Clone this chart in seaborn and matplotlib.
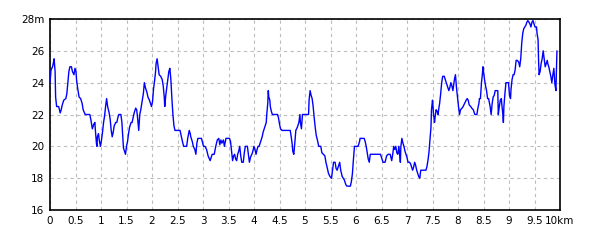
import matplotlib
matplotlib.use("Agg")
import matplotlib.pyplot as plt
import seaborn as sns
import pandas as pd

distance_km = [
    0.00, 0.02, 0.05, 0.07, 0.08, 0.10, 0.11, 0.13, 0.17, 0.20, 0.22, 0.24, 0.27, 0.31, 0.33, 0.35,
    0.37, 0.39, 0.42, 0.44, 0.47, 0.49, 0.51, 0.52, 0.54, 0.57, 0.60, 0.63, 0.65, 0.69, 0.72, 0.78,
    0.80, 0.83, 0.86, 0.88, 0.89, 0.91, 0.92, 0.93, 0.95, 0.97, 0.99, 1.01, 1.03, 1.05, 1.07, 1.09,
    1.11, 1.13, 1.16, 1.18, 1.20, 1.22, 1.24, 1.26, 1.29, 1.31, 1.33, 1.35, 1.39, 1.41, 1.43, 1.44,
    1.46, 1.48, 1.50, 1.52, 1.54, 1.56, 1.59, 1.61, 1.63, 1.65, 1.68, 1.70, 1.72, 1.74, 1.76, 1.78,
    1.81, 1.83, 1.85, 1.87, 1.90, 1.92, 1.95, 1.97, 1.99, 2.01, 2.03, 2.05, 2.07, 2.08, 2.10, 2.12,
    2.14, 2.17, 2.20, 2.22, 2.24, 2.25, 2.27, 2.29, 2.31, 2.33, 2.35, 2.37, 2.39, 2.41, 2.43, 2.45,
    2.48, 2.55, 2.57, 2.59, 2.62, 2.65, 2.68, 2.70, 2.73, 2.75, 2.76, 2.79, 2.81, 2.84, 2.86, 2.88,
    2.90, 2.93,
    2.97, 3.01, 3.04, 3.07, 3.10, 3.14, 3.16, 3.18, 3.22, 3.25, 3.28, 3.31, 3.33, 3.35, 3.37, 3.40,
    3.42, 3.45, 3.48, 3.52, 3.54, 3.56, 3.58, 3.60, 3.62, 3.64, 3.66, 3.68, 3.70, 3.72, 3.74, 3.76,
    3.79, 3.81, 3.83, 3.87, 3.89, 3.91, 3.93, 3.97, 4.00, 4.02, 4.04, 4.06, 4.08, 4.10, 4.13, 4.16,
    4.18, 4.21, 4.24, 4.25, 4.27, 4.28, 4.29, 4.31, 4.32, 4.34, 4.36, 4.46, 4.48, 4.50, 4.52, 4.55,
    4.71, 4.73, 4.75, 4.76, 4.78, 4.80, 4.82, 4.85, 4.88, 4.90, 4.91, 4.93, 4.95, 5.07, 5.08, 5.10,
    5.12, 5.14, 5.16, 5.18, 5.20, 5.22, 5.25, 5.27, 5.31, 5.33, 5.36, 5.39, 5.41, 5.44, 5.46, 5.49,
    5.52, 5.54, 5.56, 5.59, 5.61, 5.63, 5.66, 5.68, 5.70, 5.73, 5.75, 5.77, 5.80, 5.82, 5.89, 5.91,
    5.93, 5.95, 5.97, 6.04, 6.07, 6.08, 6.16, 6.18, 6.20, 6.22, 6.24, 6.26, 6.28, 6.48, 6.50, 6.53,
    6.57, 6.60, 6.63,
    6.67, 6.70, 6.72, 6.74, 6.76, 6.78, 6.80, 6.82, 6.84, 6.86, 6.87, 6.88, 6.90, 6.92, 6.94, 6.96,
    6.98, 7.00, 7.02, 7.05, 7.07, 7.09, 7.11, 7.13, 7.15, 7.17, 7.19, 7.21, 7.23, 7.25, 7.27, 7.37,
    7.39, 7.41, 7.43, 7.45, 7.47, 7.48, 7.50, 7.51, 7.52, 7.54, 7.55, 7.57, 7.59, 7.61, 7.62, 7.64,
    7.66, 7.68, 7.70, 7.73, 7.75, 7.78, 7.80, 7.82, 7.84, 7.86, 7.88, 7.90, 7.92, 7.93, 7.95, 7.97,
    7.99, 8.01, 8.03, 8.05, 8.08, 8.10, 8.13, 8.16, 8.18, 8.20, 8.22, 8.25, 8.27, 8.30, 8.33, 8.37,
    8.39, 8.41, 8.42, 8.44, 8.46, 8.48, 8.49, 8.50, 8.52, 8.54, 8.56, 8.58, 8.60, 8.63, 8.65, 8.67,
    8.69, 8.71, 8.73, 8.78, 8.79, 8.81, 8.83, 8.85, 8.86, 8.88, 8.89, 8.90, 8.92, 8.94, 8.99, 9.01,
    9.03, 9.04, 9.06, 9.08, 9.10, 9.12, 9.14, 9.16, 9.19, 9.21, 9.23, 9.25, 9.27, 9.29, 9.31, 9.33,
    9.35, 9.37, 9.39, 9.41, 9.43, 9.45, 9.47, 9.49, 9.51, 9.54, 9.55, 9.57, 9.58, 9.59, 9.61, 9.63,
    9.65, 9.67, 9.69, 9.71, 9.73, 9.75, 9.76, 9.78, 9.80, 9.82, 9.84, 9.86, 9.88, 9.90, 9.92, 9.93,
    9.94,
]

elevation_m = [
    24.0, 24.8, 25.0, 25.3, 25.5, 24.7, 23.1, 22.5, 22.5, 22.1, 22.3, 22.6, 22.9, 23.0, 23.3, 24.0,
    24.7, 25.0, 25.0, 24.7, 24.5, 24.9, 24.7, 24.2, 23.7, 23.1, 23.0, 22.7, 22.3, 22.0, 22.0, 22.0,
    21.7, 21.1, 21.4, 21.5, 21.0, 20.2, 20.0, 20.6, 20.8, 20.3, 20.0, 20.4, 20.9, 21.5, 21.9, 22.5,
    23.0, 22.5, 22.1, 21.7, 21.0, 20.6, 20.9, 21.3, 21.5, 21.5, 21.8, 22.0, 22.0, 21.5, 20.5, 19.9,
    19.7, 19.5, 20.0, 20.3, 20.8, 21.2, 21.5, 21.5, 21.8, 22.1, 22.4, 22.3, 21.7, 21.0, 22.0, 22.3,
    22.9, 23.3, 24.0, 23.7, 23.4, 23.1, 22.9, 22.7, 22.5, 22.8, 23.6, 24.1, 24.7, 25.2, 25.5, 25.0,
    24.5, 24.4, 24.2, 23.8, 23.1, 22.5, 23.2, 23.7, 24.2, 24.7, 24.9, 24.2, 23.0, 22.0, 21.3, 21.0,
    21.0, 21.0, 20.7, 20.4, 20.0, 20.0, 20.0, 20.5, 21.0, 20.8, 20.6, 20.3, 20.0, 19.8, 19.5, 20.2,
    20.5, 20.5,
    20.5, 20.0, 20.0, 19.8, 19.4, 19.1, 19.3, 19.5, 19.5, 20.0, 20.4, 20.5, 20.1, 20.4, 20.2, 20.4,
    20.0, 20.5, 20.5, 20.5, 20.3, 19.7, 19.1, 19.4, 19.5, 19.2, 19.1, 19.5, 19.7, 20.0, 19.4, 19.0,
    19.0, 19.6, 20.0, 20.0, 19.5, 19.0, 19.3, 19.6, 20.0, 19.8, 19.5, 19.8, 20.0, 20.0, 20.3, 20.6,
    20.9, 21.2, 21.5, 22.0, 22.7, 23.5, 23.1, 22.9, 22.5, 22.2, 22.0, 22.0, 21.8, 21.4, 21.1, 21.0,
    21.0, 20.6, 20.1, 19.7, 19.5, 20.2, 21.0, 21.2, 21.5, 22.0, 21.5, 21.1, 22.0, 22.0, 22.9, 23.5,
    23.2, 23.0, 22.5, 21.8, 21.2, 20.7, 20.3, 20.0, 20.0, 19.6, 19.5, 19.4, 19.0, 18.6, 18.3, 18.1,
    18.0, 18.5, 19.0, 19.0, 18.6, 18.5, 18.8, 19.0, 18.5, 18.1, 18.0, 17.9, 17.6, 17.5, 17.5, 17.8,
    18.3, 19.2, 20.0, 20.0, 20.3, 20.5, 20.5, 20.3, 20.0, 19.6, 19.2, 19.0, 19.5, 19.5, 19.3, 19.0,
    19.0, 19.4, 19.5,
    19.5, 19.1, 19.5, 20.0, 19.8, 20.0, 19.6, 19.5, 20.0, 19.4, 19.0, 20.0, 20.5, 20.2, 20.0, 19.7,
    19.5, 19.3, 19.0, 19.0, 18.9, 18.7, 18.5, 18.7, 19.0, 18.8, 18.5, 18.3, 18.1, 18.0, 18.5, 18.5,
    18.7, 19.1, 19.6, 20.4, 21.2, 22.3, 22.9, 22.5, 22.0, 21.5, 21.8, 22.3, 22.2, 22.0, 22.3, 22.7,
    23.3, 24.0, 24.4, 24.4, 24.2, 23.9, 23.7, 23.5, 23.7, 24.0, 23.8, 23.5, 24.0, 24.2, 24.5, 23.7,
    23.1, 22.5, 22.0, 22.3, 22.4, 22.5, 22.7, 22.9, 23.0, 22.9, 22.6, 22.5, 22.4, 22.3, 22.0, 22.0,
    22.4, 22.7, 23.0, 23.0, 24.0, 24.6, 25.0, 24.7, 24.2, 23.8, 23.5, 23.0, 23.0, 22.5, 22.0, 22.7,
    23.1, 23.2, 23.5, 23.5, 22.0, 22.5, 22.9, 23.0, 22.6, 22.0, 21.5, 22.5, 23.3, 24.0, 24.0, 23.2,
    23.0, 23.6, 24.2, 24.5, 24.5, 24.8, 25.4, 25.4, 25.3, 25.0, 25.5, 26.5, 27.1, 27.4, 27.5, 27.6,
    27.8, 27.9, 27.8, 27.7, 27.5, 27.8, 27.9, 27.7, 27.5, 27.5, 27.1, 26.7, 25.4, 24.5, 24.7, 25.2,
    25.5, 26.0, 25.5, 25.0, 25.2, 25.4, 25.2, 25.0, 24.7, 24.4, 24.0, 24.5, 24.9, 23.9, 23.5, 24.8,
    26.0,
]

x_ticks = [0, 0.5, 1, 1.5, 2, 2.5, 3, 3.5, 4, 4.5, 5, 5.5, 6, 6.5, 7, 7.5, 8, 8.5, 9, 9.5, 10]
x_tick_labels = ["0", "0.5", "1", "1.5", "2", "2.5", "3", "3.5", "4", "4.5", "5", "5.5",
                 "6", "6.5", "7", "7.5", "8", "8.5", "9", "9.5", "10km"]
y_ticks = [16, 18, 20, 22, 24, 26, 28]
y_tick_labels = ["16", "18", "20", "22", "24", "26", "28m"]

df = pd.DataFrame({"distance": distance_km, "elevation": elevation_m})

sns.set_style("white")
plt.rcParams["font.family"] = ["DejaVu Sans"]

fig = plt.figure(figsize=(6.0, 2.4), dpi=100)
ax = fig.add_axes([50 / 600, 1 - 210 / 240, 510 / 600, 191 / 240])

sns.lineplot(data=df, x="distance", y="elevation", ax=ax, color="#0000FF",
             linewidth=1.0, sort=False, estimator=None, zorder=3)

ax.set_xlim(0, 10)
ax.set_ylim(16, 28)
ax.set_xticks(x_ticks)
ax.set_xticklabels(x_tick_labels)
ax.set_yticks(y_ticks)
ax.set_yticklabels(y_tick_labels)
ax.tick_params(axis="both", length=0, labelsize=7.5, colors="black", pad=4)
ax.set_xlabel("")
ax.set_ylabel("")
ax.grid(True, color="#bdbdbd", linestyle=(0, (3, 3)), linewidth=0.8, zorder=0)
for s in ax.spines.values():
    s.set_visible(True)
    s.set_color("black")
    s.set_linewidth(1.2)

fig.savefig("out.png", dpi=100, facecolor="white")
